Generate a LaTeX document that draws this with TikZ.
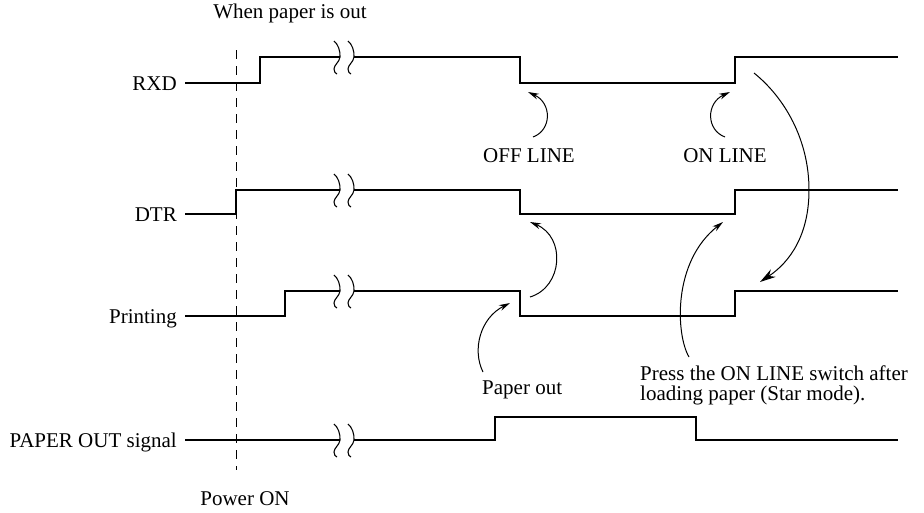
\documentclass[tikz,border=0pt]{standalone}
\usepackage{fontspec}
\setmainfont{Liberation Serif}
\usetikzlibrary{arrows.meta}
\begin{document}
\begin{tikzpicture}[x=1pt,y=-1pt,
  sig/.style={line width=2pt, line join=miter},
  brk/.style={line width=1.1pt},
  dsh/.style={line width=0.9pt, dash pattern=on 9pt off 7pt},
  lbl/.style={font=\fontsize{21}{20}\selectfont, inner sep=0pt},
  note/.style={line width=1pt, -{Stealth[length=11pt,width=6pt]}},
  bignote/.style={line width=1pt, -{Stealth[length=16pt,width=9pt]}},
  brkone/.pic={
    \draw[brk] (-6,-16) .. controls (-2,-13) and (0.5,-6) .. (0,0)
      .. controls (-0.5,5) and (-6,8) .. (-6,12)
      .. controls (-6,15) and (-4.5,16.5) .. (-3,17);
  },
  brkmark/.pic={
    \pic at (0,0) {brkone};
    \pic at (14,0) {brkone};
  }]
\useasboundingbox (0,0) rectangle (924,512);

% labels
\node[lbl, anchor=base east] (rxd) at (177,90) {RXD};
\node[lbl, anchor=base east] (dtr) at (177,221) {DTR};
\node[lbl, anchor=base east] (prn) at (177,323) {Printing};
\node[lbl, anchor=base east] (pos) at (177,447) {PAPER OUT signal};
\node[lbl, anchor=base] (when) at (290,18.5) {When paper is out};
\node[lbl, anchor=base] (power) at (245,505) {Power ON};
\node[lbl, anchor=base] (offl) at (529,162) {OFF LINE};
\node[lbl, anchor=base] (onl) at (725,162) {ON LINE};
\node[lbl, anchor=base west] (pout) at (482,394) {Paper out};
\node[lbl, anchor=base west] (press1) at (640,380) {Press the ON LINE switch after};
\node[lbl, anchor=base west] (press2) at (640,400) {loading paper (Star mode).};

% power on line
\draw[dsh] (236,50) -- (236,470);

% signals
\draw[sig] (185,83) -- (260,83) -- (260,57) -- (340,57);
\draw[sig] (354,57) -- (520,57) -- (520,83) -- (735,83) -- (735,57) -- (898,57);
\pic at (340,57) {brkmark};

\draw[sig] (185,214) -- (236,214) -- (236,190) -- (340,190);
\draw[sig] (354,190) -- (520,190) -- (520,214) -- (735,214) -- (735,190) -- (898,190);
\pic at (340,190) {brkmark};

\draw[sig] (185,316) -- (285,316) -- (285,291) -- (340,291);
\draw[sig] (354,291) -- (520,291) -- (520,316) -- (735,316) -- (735,291) -- (898,291);
\pic at (340,291) {brkmark};

\draw[sig] (185,440) -- (340,440);
\draw[sig] (354,440) -- (495,440) -- (495,417) -- (696,417) -- (696,440) -- (898,440);
\pic at (340,440) {brkmark};

% arrow end points
\coordinate (offS) at (533,137);
\coordinate (offE) at (528,92);
\coordinate (onS) at (725,137);
\coordinate (onE) at (730,92);
\coordinate (bigS) at (754,73);
\coordinate (bigE) at (760,282);
\coordinate (prS) at (530,297);
\coordinate (prE) at (530,222);
\coordinate (poS) at (483,372);
\coordinate (poE) at (510,303);
\coordinate (swS) at (689,357);
\coordinate (swE) at (723,222);

\draw[note] (offS) .. controls (552,130) and (552,103) .. (offE);
\draw[note] (onS) .. controls (706,130) and (706,103) .. (onE);
\draw[bignote] (bigS) .. controls (785,98) and (809,140) .. (809,190)
   .. controls (809,235) and (790,262) .. (bigE);
\draw[note] (prS) .. controls (563,287) and (566,237) .. (prE);
\draw[note] (poS) .. controls (472,350) and (480,318) .. (poE);
\draw[note] (swS) .. controls (676,335) and (672,262) .. (swE);
\end{tikzpicture}
\end{document}
